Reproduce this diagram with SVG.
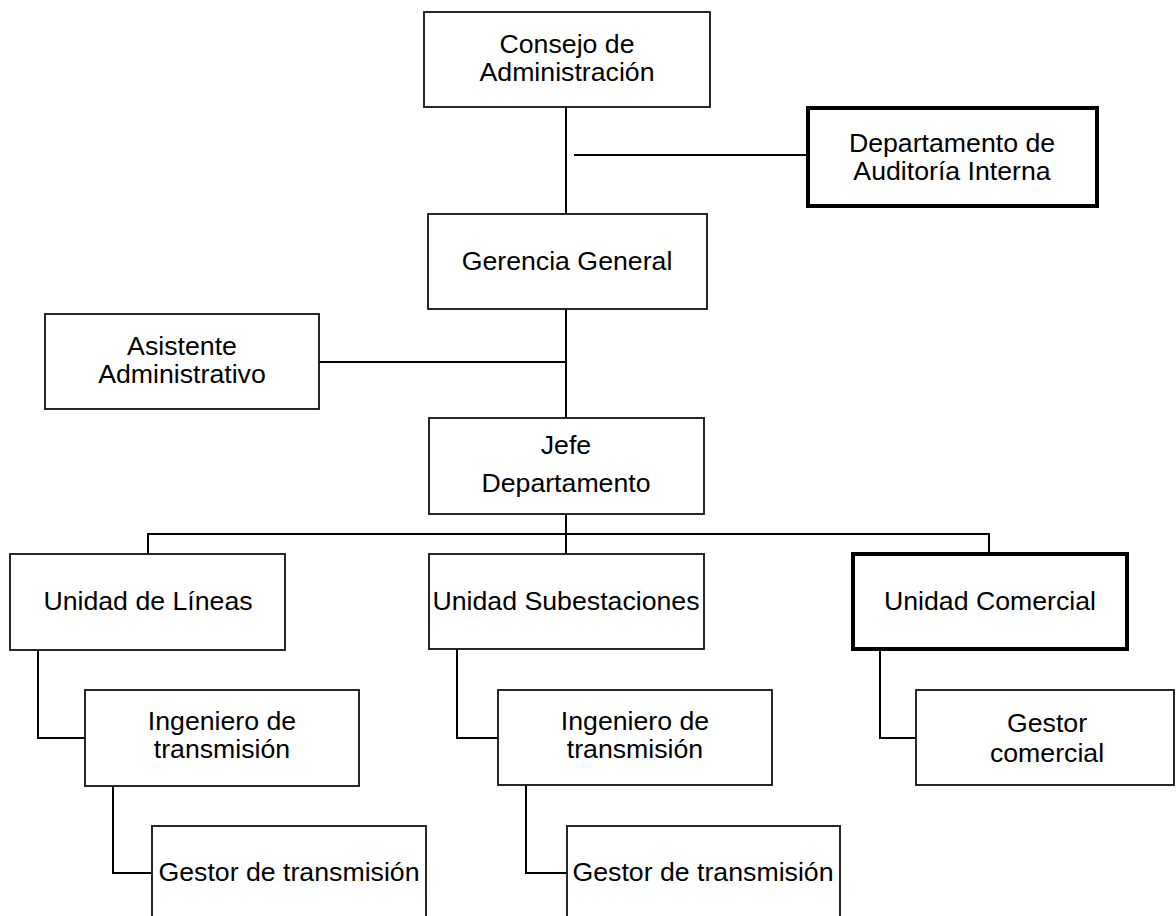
<svg xmlns="http://www.w3.org/2000/svg" width="1176" height="916" viewBox="0 0 1176 916">
<style>
.box{fill:#fff;stroke:#111;stroke-width:1.8}
.thick{fill:#fff;stroke:#000;stroke-width:4}
.t{font-family:"Liberation Sans",Arial,sans-serif;font-size:26.7px;fill:#000;text-anchor:middle}
.c{fill:none;stroke:#000;stroke-width:2}
</style>
<rect width="1176" height="916" fill="#fff"/>
<g id="connectors">
<path class="c" d="M566,107V214M566,309V418M566,514V554M574,155H808M319,362H566M148,554V534H989V554"/>
<path class="c" d="M38,650V738H85M113,786V873H152M457,649V738H498M526,785V873H567M880,651V738H916"/>
</g>
<g id="consejo"><rect class="box" x="424" y="12" width="286" height="95"/><text class="t" x="567" y="53">Consejo de</text><text class="t" x="567" y="81">Administración</text></g>
<g id="auditoria"><rect class="thick" x="808" y="108" width="289" height="98"/><text class="t" x="952" y="152">Departamento de</text><text class="t" x="952" y="180">Auditoría Interna</text></g>
<g id="gerencia"><rect class="box" x="428" y="214" width="279" height="95"/><text class="t" x="567" y="270">Gerencia General</text></g>
<g id="asistente"><rect class="box" x="45" y="314" width="274" height="95"/><text class="t" x="182" y="355">Asistente</text><text class="t" x="182" y="383">Administrativo</text></g>
<g id="jefe"><rect class="box" x="429" y="418" width="275" height="96"/><text class="t" x="566" y="454">Jefe</text><text class="t" x="566" y="492">Departamento</text></g>
<g id="lineas"><rect class="box" x="10" y="554" width="275" height="96"/><text class="t" x="148" y="610">Unidad de Líneas</text></g>
<g id="subestaciones"><rect class="box" x="429" y="554" width="275" height="95"/><text class="t" x="566" y="610">Unidad Subestaciones</text></g>
<g id="comercial"><rect class="thick" x="853" y="554" width="274" height="95"/><text class="t" x="990" y="610">Unidad Comercial</text></g>
<g id="ingeniero1"><rect class="box" x="85" y="690" width="274" height="96"/><text class="t" x="222" y="730">Ingeniero de</text><text class="t" x="222" y="758">transmisión</text></g>
<g id="ingeniero2"><rect class="box" x="498" y="690" width="274" height="95"/><text class="t" x="635" y="730">Ingeniero de</text><text class="t" x="635" y="758">transmisión</text></g>
<g id="gestorcomercial"><rect class="box" x="916" y="690" width="258" height="95"/><text class="t" x="1047" y="732">Gestor</text><text class="t" x="1047" y="762">comercial</text></g>
<g id="gestor1"><rect class="box" x="152" y="826" width="274" height="100"/><text class="t" x="289" y="881">Gestor de transmisión</text></g>
<g id="gestor2"><rect class="box" x="567" y="826" width="273" height="100"/><text class="t" x="703" y="881">Gestor de transmisión</text></g>
</svg>
